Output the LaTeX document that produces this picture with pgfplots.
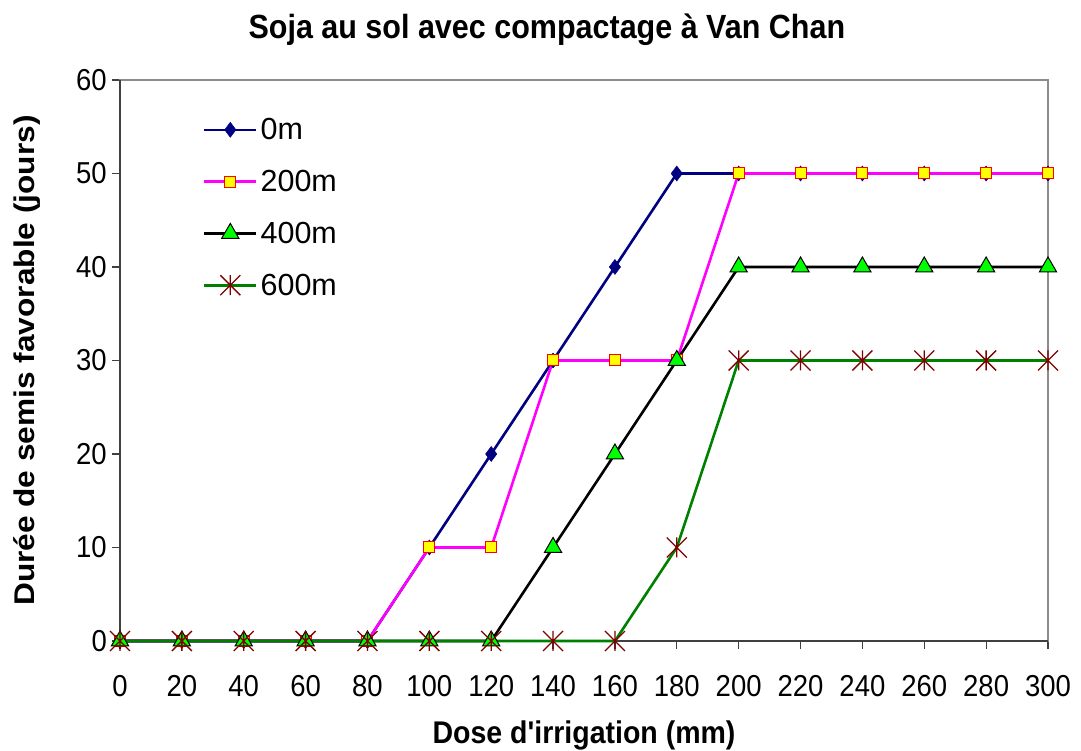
\documentclass[border=0pt]{standalone}
\usepackage{pgfplots}
\pgfplotsset{compat=1.18}
\usepackage{fontspec}
\setmainfont{Liberation Sans}

\definecolor{navyline}{HTML}{000080}
\definecolor{pinkline}{HTML}{FF00FF}
\definecolor{yellowfill}{HTML}{FFFF00}
\definecolor{rededge}{HTML}{FF0000}
\definecolor{greenfill}{HTML}{00FF00}
\definecolor{darkgreen}{HTML}{008000}
\definecolor{darkred}{HTML}{800000}
\definecolor{axisdark}{HTML}{404040}
\definecolor{boxgray}{HTML}{8C8C8C}

% six-armed star: vertical stroke plus an X
\pgfdeclareplotmark{xstar}{%
  \pgfpathmoveto{\pgfqpoint{0pt}{\pgfplotmarksize}}%
  \pgfpathlineto{\pgfqpoint{0pt}{-\pgfplotmarksize}}%
  \pgfpathmoveto{\pgfqpoint{-\pgfplotmarksize}{\pgfplotmarksize}}%
  \pgfpathlineto{\pgfqpoint{\pgfplotmarksize}{-\pgfplotmarksize}}%
  \pgfpathmoveto{\pgfqpoint{-\pgfplotmarksize}{-\pgfplotmarksize}}%
  \pgfpathlineto{\pgfqpoint{\pgfplotmarksize}{\pgfplotmarksize}}%
  \pgfusepathqstroke}

\begin{document}
\begin{tikzpicture}
\begin{axis}[
  at={(0,0)}, anchor=south west,
  scale only axis, width=928pt, height=561pt,
  clip=false,
  xmin=0, xmax=300, ymin=0, ymax=60,
  xtick={0,20,...,300}, ytick={0,10,...,60},
  tick align=outside, xtick pos=bottom, ytick pos=left,
  major tick length=8pt,
  axis line style={draw=boxgray, line width=1.2pt},
  tick style={draw=axisdark, line width=1.2pt},
  /pgf/number format/assume math mode=true,
  ticklabel style={font=\fontsize{27.5}{30}\selectfont, yscale=1.1},
  xticklabel style={anchor=center, yshift=-34pt},
  yticklabel style={anchor=east, inner sep=0pt, xshift=-5pt},
  title={Soja au sol avec compactage à Van Chan},
  title style={font=\bfseries\fontsize{30.5}{34}\selectfont, yscale=1.1,
    at={(axis description cs:0.46,1.078)}, anchor=center},
  xlabel={Dose d\textquotesingle irrigation (mm)},
  xlabel style={font=\bfseries\fontsize{28.5}{34}\selectfont, yscale=1.1,
    at={(axis description cs:0.5,-0.1676)}, anchor=center},
  ylabel={Durée de semis favorable (jours)},
  ylabel style={font=\bfseries\fontsize{28.5}{34}\selectfont,
    at={(axis description cs:-0.1002,0.5)}, anchor=center, xscale=1.11},
  legend cell align=left,
  legend style={draw=none, fill=none, font=\fontsize{30.5}{34}\selectfont,
    at={(axis description cs:0.086,0.939)}, anchor=north west,
    row sep=25pt, nodes={inner xsep=3pt}},
  legend image code/.code={%
    \draw[mark repeat=2, mark phase=2]
      plot coordinates {(0pt,0pt) (26pt,0pt) (52pt,0pt)};},
]
% darker axis lines on the left and bottom
\draw[axisdark, line width=1.4pt] (rel axis cs:0,1) -- (rel axis cs:0,0) -- (rel axis cs:1,0);

\addplot[navyline, line width=2.6pt, mark=diamond*, mark size=7.5pt,
  mark options={fill=navyline, draw=navyline, line width=0.5pt}]
  coordinates {(0,0) (20,0) (40,0) (60,0) (80,0) (100,10) (120,20) (140,30)
    (160,40) (180,50) (200,50) (220,50) (240,50) (260,50) (280,50) (300,50)};
\addlegendentry{0m}

\addplot[pinkline, line width=2.6pt, mark=square*, mark size=5.5pt,
  mark options={fill=yellowfill, draw=rededge, line width=1pt}]
  coordinates {(0,0) (20,0) (40,0) (60,0) (80,0) (100,10) (120,10) (140,30)
    (160,30) (180,30) (200,50) (220,50) (240,50) (260,50) (280,50) (300,50)};
\addlegendentry{200m}

\addplot[black, line width=2.6pt, mark=triangle*, mark size=10pt,
  mark options={fill=greenfill, draw=black, line width=1pt}]
  coordinates {(0,0) (20,0) (40,0) (60,0) (80,0) (100,0) (120,0) (140,10)
    (160,20) (180,30) (200,40) (220,40) (240,40) (260,40) (280,40) (300,40)};
\addlegendentry{400m}

\addplot[darkgreen, line width=2.6pt, mark=xstar, mark size=10pt,
  mark options={draw=darkred, line width=1.3pt}]
  coordinates {(0,0) (20,0) (40,0) (60,0) (80,0) (100,0) (120,0) (140,0)
    (160,0) (180,10) (200,30) (220,30) (240,30) (260,30) (280,30) (300,30)};
\addlegendentry{600m}
\end{axis}
\pgfresetboundingbox
\path[use as bounding box] (-120pt,-110pt) rectangle (961pt,641pt);
\end{tikzpicture}
\end{document}
